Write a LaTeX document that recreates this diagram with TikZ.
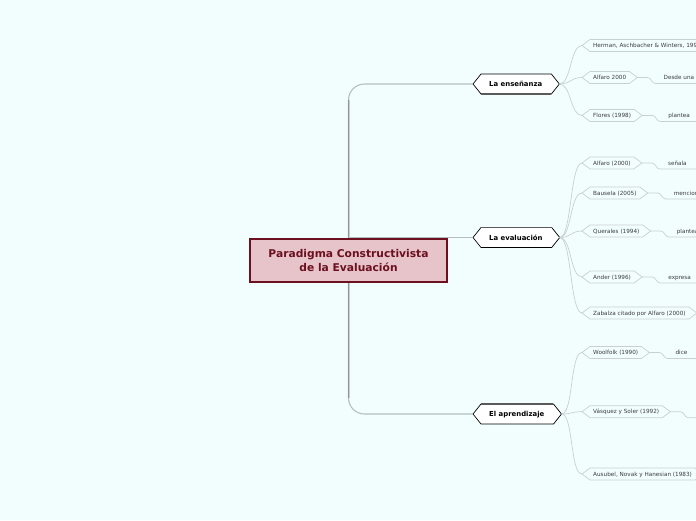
\documentclass[tikz,border=0pt]{standalone}
\usepackage{fontspec}
\setmainfont{DejaVu Sans}
\usetikzlibrary{calc}
\pgfdeclarelayer{back}
\pgfdeclarelayer{mid}
\pgfsetlayers{back,mid,main}
\definecolor{bgcol}{RGB}{242,254,254}
\definecolor{maroon}{RGB}{108,16,32}
\definecolor{pinkfill}{RGB}{230,196,201}
\definecolor{trunkcol}{RGB}{150,150,150}
\definecolor{trunklight}{RGB}{200,205,205}
\definecolor{linkcol}{RGB}{180,190,190}
\definecolor{leafline}{RGB}{200,208,208}
\definecolor{leaftext}{RGB}{60,60,60}
\definecolor{edgecol}{RGB}{90,90,90}
\tikzset{
  central/.style={draw=maroon, line width=1.2pt, fill=pinkfill, minimum width=197pt,
    minimum height=43pt, align=center, text=maroon, inner sep=0pt,
    font=\bfseries\fontsize{10.7}{13.4}\selectfont},
  topic/.style={anchor=west, inner sep=0pt, text height=5pt, text depth=0pt,
    font=\bfseries\fontsize{6.9}{8}\selectfont},
  topicborder/.style={draw=black, fill=white, line width=0.7pt},
  topicedge/.style={draw=edgecol, line width=1.8pt},
  leaf/.style={anchor=west, inner sep=0pt, text height=4.1pt, text depth=0pt,
    text=leaftext, font=\fontsize{5.7}{7}\selectfont},
  leafborder/.style={draw=leafline, line width=0.7pt},
  note/.style={anchor=west, inner sep=0pt, text height=4.1pt, text depth=0pt,
    text=leaftext, font=\fontsize{5.7}{7}\selectfont},
  trunk/.style={draw=trunkcol, line width=2pt},
  trunkhi/.style={draw=trunklight, line width=0.8pt},
  link/.style={draw=linkcol, line width=1.1pt},
  link2/.style={draw=leafline, line width=0.7pt},
}
\newcommand\mmtopic[3]{%
  \node[topic] (#1) at (489,#2) {#3};
  \coordinate (#1-L) at ([xshift=-16pt]#1.west);
  \coordinate (#1-R) at ([xshift=17pt]#1.east);
  \begin{pgfonlayer}{mid}
  \filldraw[topicborder] (#1-L) -- ([xshift=-8pt,yshift=10pt]#1.west)
    -- ([xshift=9pt,yshift=10pt]#1.east) -- (#1-R)
    -- ([xshift=9pt,yshift=-10pt]#1.east) -- ([xshift=-8pt,yshift=-10pt]#1.west) -- cycle;
  \end{pgfonlayer}
}
\newcommand\mmleaf[3]{%
  \node[leaf] (#1) at (593,#2) {#3};
  \coordinate (#1-L) at (582,#2);
  \coordinate (#1-R) at ([xshift=11pt]#1.east);
  \draw[leafborder] (#1-L) -- ([xshift=-3pt,yshift=6pt]#1.west)
    -- ([xshift=3pt,yshift=6pt]#1.east) -- (#1-R)
    -- ([xshift=3pt,yshift=-6pt]#1.east) -- ([xshift=-3pt,yshift=-6pt]#1.west) -- cycle;
}
\newcommand\mmnote[3]{%
  \node[note] (#2) at ([xshift=26pt]#1-R) {#3};
  \draw[link2] (#1-R) -- ++(10,0) to[out=0,in=180] ++(8,6)
    -- ($(#2.east)+(60pt,-6pt)$);
}
\begin{document}
\begin{tikzpicture}[x=1pt,y=-1pt]
\useasboundingbox (0,0) rectangle (696,520);
\begin{pgfonlayer}{back}
\fill[bgcol] (0,0) rectangle (696,520);
\end{pgfonlayer}

\node[central] (c) at (348.5,260.5) {Paradigma Constructivista\\de la Evaluación};

\mmtopic{ens}{84}{La enseñanza}
\mmtopic{eva}{237.5}{La evaluación}
\mmtopic{apr}{414}{El aprendizaje}

\draw[topicedge] ([xshift=-8pt,yshift=-10pt]ens.west) -- ([xshift=9pt,yshift=-10pt]ens.east);
\draw[topicedge] ([xshift=-8pt,yshift=10pt]eva.west) -- ([xshift=9pt,yshift=10pt]eva.east);
\draw[topicedge] ([xshift=-8pt,yshift=10pt]apr.west) -- ([xshift=9pt,yshift=10pt]apr.east);

\begin{pgfonlayer}{mid}
\draw[link, rounded corners=16pt] (c.center) |- (ens-L);
\draw[link, rounded corners=16pt] (c.center) |- (apr-L);
\draw[link] (c.center |- eva-L) -- (eva-L);
\draw[trunk] (c.center) -- (c.center |- 0,100);
\draw[trunk] (c.center) -- (c.center |- 0,398);
\draw[trunkhi] ([xshift=1.2pt]c.center) -- ([xshift=1.2pt]c.center |- 0,100);
\draw[trunkhi] ([xshift=1.2pt]c.center) -- ([xshift=1.2pt]c.center |- 0,398);
\end{pgfonlayer}

\mmleaf{her}{45.5}{Herman, Aschbacher \& Winters, 1992}
\mmleaf{alf}{77.5}{Alfaro 2000}
\mmleaf{flo}{115.5}{Flores (1998)}
\mmleaf{alb}{163}{Alfaro (2000)}
\mmleaf{bau}{193}{Bausela (2005)}
\mmleaf{que}{231}{Querales (1994)}
\mmleaf{and}{277}{Ander (1996)}
\mmleaf{zab}{313}{Zabalza citado por Alfaro (2000)}
\mmleaf{woo}{352.5}{Woolfolk (1990)}
\mmleaf{vas}{411.7}{Vásquez y Soler (1992)}
\mmleaf{aus}{474}{Ausubel, Novak y Hanesian (1983)}

\foreach \p/\k in {ens/her,ens/alf,ens/flo,eva/alb,eva/bau,eva/que,eva/and,eva/zab,apr/woo,apr/vas,apr/aus}
  \draw[link2] (\p-R) .. controls +(12,0) and +(-12,0) .. (\k-L);

\mmnote{alf}{alfn}{Desde una p}
\mmnote{flo}{flon}{plantea}
\mmnote{alb}{albn}{señala}
\mmnote{bau}{baun}{menciona}
\mmnote{que}{quen}{plantea}
\mmnote{and}{andn}{expresa}
\mmnote{woo}{woon}{dice}
\draw[link2] (vas-R) -- ++(10,0) to[out=0,in=180] ++(8,6) -- ++(30,0) coordinate (vasend);
\end{tikzpicture}
\end{document}
